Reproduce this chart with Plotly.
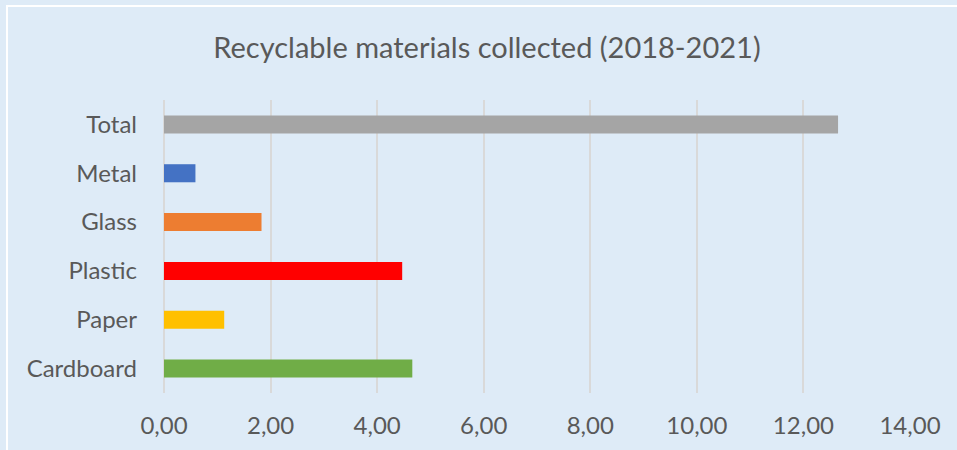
import plotly.graph_objects as go

categories = ["Cardboard", "Paper", "Plastic", "Glass", "Metal", "Total"]
values = [4.66, 1.13, 4.47, 1.83, 0.59, 12.65]
colors = ["#70AD47", "#FFC000", "#FF0000", "#ED7D31", "#4472C4", "#A5A5A5"]
tick_vals = [0, 2, 4, 6, 8, 10, 12, 14]
tick_text = ["0,00", "2,00", "4,00", "6,00", "8,00", "10,00", "12,00", "14,00"]

W, H = 957, 450
L, R, T, B = 164, 47, 100, 57
pw, ph = W - L - R, H - T - B

fig = go.Figure(go.Bar(
    y=categories, x=values, orientation="h",
    marker=dict(color=colors, line=dict(width=0)),
    hoverinfo="x+y",
))

bg = "#DEEBF7"
fig.update_layout(
    width=W, height=H,
    margin=dict(l=L, r=R, t=T, b=B),
    paper_bgcolor=bg, plot_bgcolor=bg,
    bargap=0.63,
    showlegend=False,
    font=dict(family="Lato", color="#595959", size=24),
    title=dict(text="Recyclable materials collected (2018-2021)",
               x=487 / W, xref="container", xanchor="center",
               y=1 - 48 / H, yref="container", yanchor="middle",
               font=dict(family="Lato", size=29, color="#595959")),
    xaxis=dict(range=[0, 14], tickvals=tick_vals, ticktext=tick_text,
               showgrid=True, gridcolor="#D9D9D9", gridwidth=1.5,
               zeroline=True, zerolinecolor="#D9D9D9", zerolinewidth=1.5,
               showline=False, ticks="", ticklabelstandoff=16,
               fixedrange=True),
    yaxis=dict(showgrid=False, zeroline=False, showline=False, ticks="",
               ticklabelstandoff=26, fixedrange=True),
    shapes=[dict(type="rect", xref="paper", yref="paper",
                 x0=(7 - L) / pw, x1=(W + 5 - L) / pw,
                 y0=(H - B - (H + 5)) / ph, y1=(H - B - 6) / ph,
                 line=dict(color="white", width=2), fillcolor="rgba(0,0,0,0)",
                 layer="below")],
)

fig.write_html("out.html", config={"displayModeBar": False},
               post_script="document.body.style.margin='0px';document.body.style.overflow='hidden';")
